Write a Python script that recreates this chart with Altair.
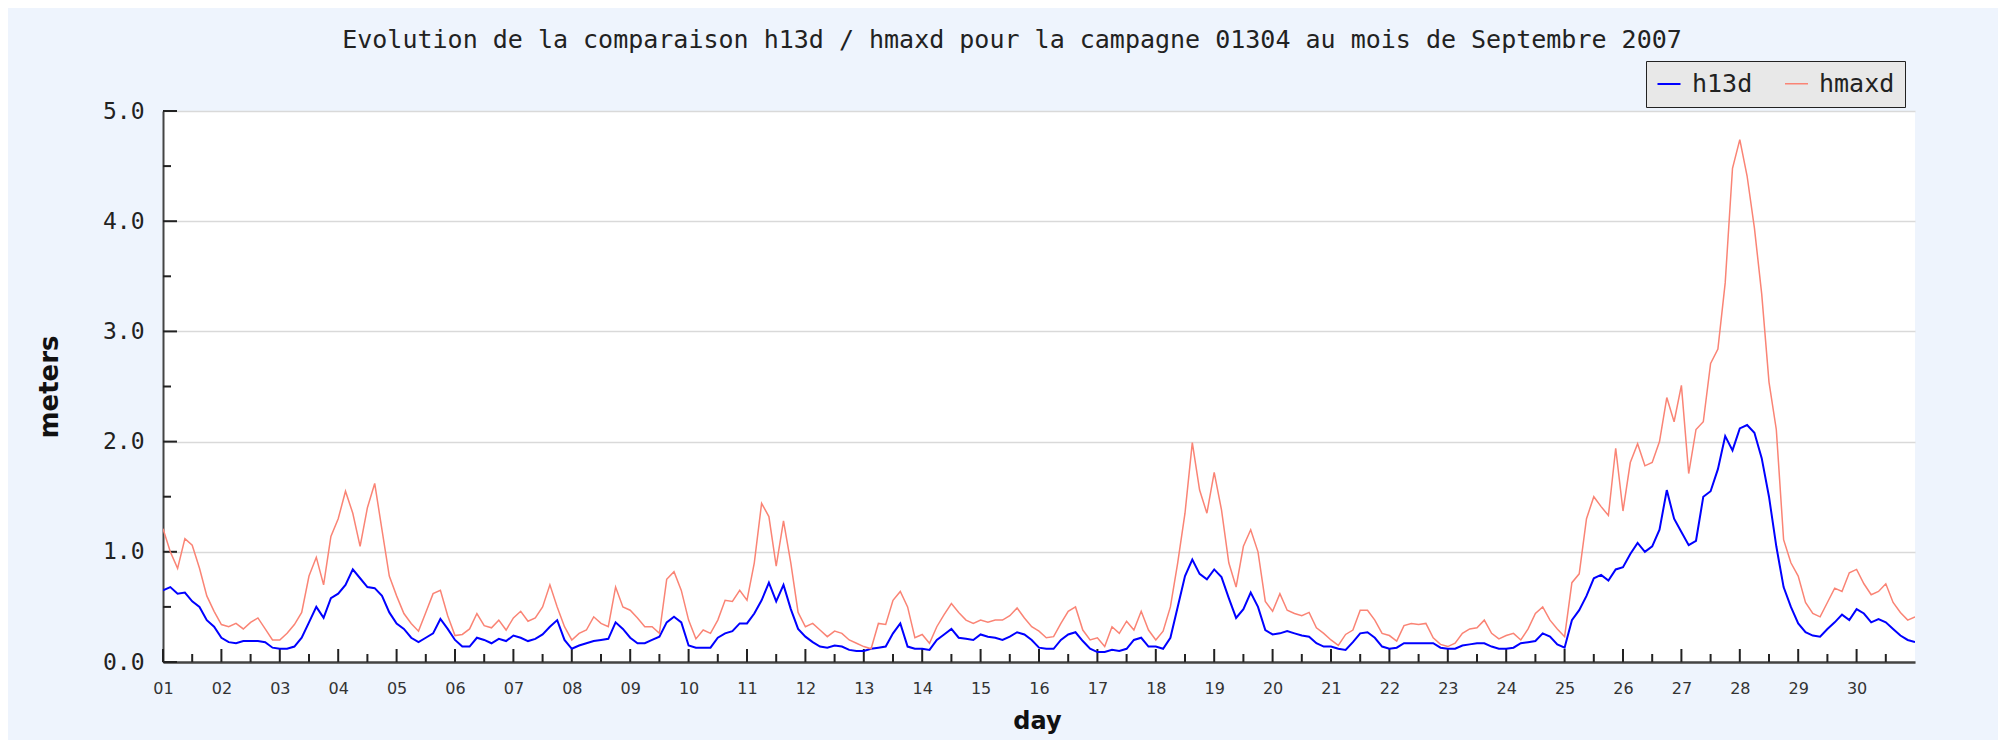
import altair as alt
import pandas as pd

# 3-hourly readings, day 01 00h .. day 30 21h, plus the final point (day 31 00h)
h13d = [
    0.65, 0.68, 0.62, 0.63, 0.55, 0.50, 0.38, 0.32,
    0.22, 0.18, 0.17, 0.19, 0.19, 0.19, 0.18, 0.13,
    0.12, 0.12, 0.14, 0.22, 0.36, 0.50, 0.40, 0.58,
    0.62, 0.70, 0.84, 0.76, 0.68, 0.67, 0.60, 0.45,
    0.35, 0.30, 0.22, 0.18, 0.22, 0.26, 0.39, 0.30,
    0.20, 0.14, 0.14, 0.22, 0.20, 0.17, 0.21, 0.19,
    0.24, 0.22, 0.19, 0.21, 0.25, 0.32, 0.38, 0.20,
    0.12, 0.15, 0.17, 0.19, 0.20, 0.21, 0.36, 0.30,
    0.22, 0.17, 0.17, 0.20, 0.23, 0.36, 0.41, 0.36,
    0.15, 0.13, 0.13, 0.13, 0.22, 0.26, 0.28, 0.35,
    0.35, 0.44, 0.56, 0.72, 0.55, 0.70, 0.48, 0.30,
    0.23, 0.18, 0.14, 0.13, 0.15, 0.14, 0.11, 0.10,
    0.10, 0.12, 0.13, 0.14, 0.26, 0.35, 0.14, 0.12,
    0.12, 0.11, 0.20, 0.25, 0.30, 0.22, 0.21, 0.20,
    0.25, 0.23, 0.22, 0.20, 0.23, 0.27, 0.25, 0.20,
    0.13, 0.12, 0.12, 0.20, 0.25, 0.27, 0.19, 0.12,
    0.09, 0.09, 0.11, 0.10, 0.12, 0.20, 0.22, 0.14,
    0.14, 0.12, 0.22, 0.50, 0.78, 0.93, 0.80, 0.75,
    0.84, 0.77, 0.58, 0.40, 0.48, 0.63, 0.50, 0.29,
    0.25, 0.26, 0.28, 0.26, 0.24, 0.23, 0.17, 0.14,
    0.14, 0.12, 0.11, 0.18, 0.26, 0.27, 0.22, 0.14,
    0.12, 0.13, 0.17, 0.17, 0.17, 0.17, 0.17, 0.13,
    0.12, 0.12, 0.15, 0.16, 0.17, 0.17, 0.14, 0.12,
    0.12, 0.13, 0.17, 0.18, 0.19, 0.26, 0.23, 0.16,
    0.13, 0.38, 0.47, 0.60, 0.76, 0.79, 0.74, 0.84,
    0.86, 0.98, 1.08, 1.00, 1.05, 1.20, 1.56, 1.30,
    1.18, 1.06, 1.10, 1.50, 1.55, 1.75, 2.05, 1.92,
    2.12, 2.15, 2.08, 1.85, 1.50, 1.05, 0.68, 0.50,
    0.35, 0.27, 0.24, 0.23, 0.30, 0.36, 0.43, 0.38,
    0.48, 0.44, 0.36, 0.39, 0.36, 0.30, 0.24, 0.20,
    0.18,
]

hmaxd = [
    1.21, 1.00, 0.85, 1.12, 1.06, 0.85, 0.60, 0.46,
    0.34, 0.32, 0.35, 0.30, 0.36, 0.40, 0.30, 0.20,
    0.20, 0.26, 0.34, 0.45, 0.78, 0.95, 0.70, 1.14,
    1.30, 1.55, 1.35, 1.05, 1.40, 1.62, 1.20, 0.78,
    0.60, 0.44, 0.35, 0.28, 0.45, 0.62, 0.65, 0.42,
    0.24, 0.25, 0.30, 0.44, 0.33, 0.31, 0.38, 0.29,
    0.40, 0.46, 0.37, 0.40, 0.50, 0.70, 0.50, 0.32,
    0.20, 0.26, 0.29, 0.41, 0.35, 0.32, 0.68, 0.50,
    0.47, 0.40, 0.32, 0.32, 0.26, 0.75, 0.82, 0.65,
    0.38, 0.21, 0.29, 0.26, 0.38, 0.56, 0.55, 0.65,
    0.56, 0.90, 1.44, 1.32, 0.87, 1.28, 0.90, 0.45,
    0.32, 0.35, 0.29, 0.23, 0.28, 0.26, 0.20, 0.17,
    0.14, 0.12, 0.35, 0.34, 0.56, 0.64, 0.50, 0.22,
    0.25, 0.17, 0.32, 0.43, 0.53, 0.45, 0.38, 0.35,
    0.38, 0.36, 0.38, 0.38, 0.42, 0.49, 0.40, 0.32,
    0.28, 0.22, 0.23, 0.35, 0.46, 0.50, 0.29, 0.20,
    0.22, 0.14, 0.32, 0.26, 0.37, 0.29, 0.46, 0.29,
    0.20, 0.28, 0.50, 0.90, 1.35, 1.99, 1.56, 1.35,
    1.72, 1.38, 0.90, 0.68, 1.05, 1.20, 1.00, 0.55,
    0.46, 0.62, 0.47, 0.44, 0.42, 0.45, 0.31, 0.26,
    0.20, 0.15, 0.25, 0.29, 0.47, 0.47, 0.38, 0.26,
    0.24, 0.19, 0.33, 0.35, 0.34, 0.35, 0.22, 0.16,
    0.14, 0.17, 0.26, 0.30, 0.31, 0.38, 0.26, 0.21,
    0.24, 0.26, 0.20, 0.30, 0.44, 0.50, 0.38, 0.30,
    0.23, 0.72, 0.80, 1.30, 1.50, 1.41, 1.33, 1.94,
    1.37, 1.81, 1.98, 1.78, 1.81, 2.00, 2.40, 2.18,
    2.51, 1.71, 2.11, 2.18, 2.71, 2.84, 3.44, 4.48,
    4.74, 4.41, 3.94, 3.34, 2.54, 2.11, 1.11, 0.90,
    0.78, 0.54, 0.44, 0.41, 0.54, 0.67, 0.64, 0.81,
    0.84, 0.71, 0.61, 0.64, 0.71, 0.54, 0.45, 0.38,
    0.41,
]

series_names = ["h13d", "hmaxd"]
series_colors = ["#0000FF", "#FA8475"]
day_ticks = list(range(0, 30))          # tick positions (days elapsed) labelled 01..30
half_day_ticks = [d + 0.5 for d in range(0, 30)]
y_major = [0, 1, 2, 3, 4, 5]
y_minor = [0.5, 1.5, 2.5, 3.5, 4.5]

title_text = "Evolution de la comparaison h13d / hmaxd pour la campagne 01304 au mois de Septembre 2007"

times = [i * 3 / 24 for i in range(len(h13d))]
rows = []
for name, vals in zip(series_names, [h13d, hmaxd]):
    for t, v in zip(times, vals):
        rows.append({"t": t, "value": v, "series": name})
df = pd.DataFrame(rows)

W, H = 1752, 551
MONO = "DejaVu Sans Mono"
SANS = "DejaVu Sans"

xscale = alt.Scale(domain=[0, 30], nice=False, zero=False)
yscale = alt.Scale(domain=[0, 5], nice=False)

x_axis = alt.Axis(
    values=day_ticks,
    labelExpr="(datum.value + 1) < 10 ? '0' + (datum.value + 1) : '' + (datum.value + 1)",
    ticks=False, grid=False,
    domainColor="#444444", domainWidth=2.5,
    labelFont=SANS, labelFontSize=16, labelColor="#333333", labelPadding=18,
    labelFlush=False,
    title="day", titleFont=SANS, titleFontSize=24, titleFontWeight="bold",
    titleColor="#111111", titleX=874, titleY=59, titleBaseline="middle",
)
y_axis = alt.Axis(
    values=y_major, format=".1f",
    ticks=False, grid=True, gridColor="#D9D9D9", gridWidth=1.5,
    domainColor="#444444", domainWidth=2,
    labelFont=MONO, labelFontSize=23, labelColor="#222222", labelPadding=19,
    title="meters", titleFont=SANS, titleFontSize=26, titleFontWeight="bold",
    titleColor="#111111", titleX=-114, titleY=275.5, titleAngle=270,
    titleAlign="center", titleBaseline="middle",
)

lines = alt.Chart(df).mark_line(interpolate="linear", clip=True).encode(
    x=alt.X("t:Q", scale=xscale, axis=x_axis),
    y=alt.Y("value:Q", scale=yscale, axis=y_axis),
    color=alt.Color(
        "series:N",
        scale=alt.Scale(domain=series_names, range=series_colors),
        legend=alt.Legend(
            title=None, orient="none", legendX=1483, legendY=-50,
            direction="horizontal", symbolType="stroke", symbolStrokeWidth=4,
            symbolSize=530, labelFont=MONO, labelFontSize=25, labelColor="#222222",
            fillColor="#E8E8E8", strokeColor="#222222", padding=10,
            columnPadding=28, labelOffset=10,
        ),
    ),
    strokeWidth=alt.StrokeWidth(
        "series:N", scale=alt.Scale(domain=series_names, range=[2, 1.5]), legend=None
    ),
)

xmaj = alt.Chart(pd.DataFrame({"t": day_ticks})).mark_rule(color="#222222", strokeWidth=2).encode(
    x=alt.X("t:Q", scale=xscale), y=alt.value(H), y2=alt.value(H - 13)
)
xmin = alt.Chart(pd.DataFrame({"t": half_day_ticks})).mark_rule(color="#222222", strokeWidth=2).encode(
    x=alt.X("t:Q", scale=xscale), y=alt.value(H), y2=alt.value(H - 8)
)
ymaj = alt.Chart(pd.DataFrame({"v": y_major})).mark_rule(color="#222222", strokeWidth=2).encode(
    y=alt.Y("v:Q", scale=yscale), x=alt.value(0), x2=alt.value(14)
)
ymin = alt.Chart(pd.DataFrame({"v": y_minor})).mark_rule(color="#222222", strokeWidth=2).encode(
    y=alt.Y("v:Q", scale=yscale), x=alt.value(0), x2=alt.value(8)
)

chart = alt.layer(xmaj, xmin, ymaj, ymin, lines).properties(
    width=W, height=H,
    autosize=alt.AutoSizeParams(type="none"),
    padding={"left": 155, "top": 103, "right": 83, "bottom": 78},
    background="#EEF4FD",
    title=alt.TitleParams(
        text=title_text, font=MONO, fontSize=25, fontWeight="normal",
        color="#222222", anchor="middle", dx=-27, dy=27, offset=15, baseline="alphabetic",
    ),
).configure_view(fill="white", stroke=None)

chart.save("out.html", embed_options={"renderer": "svg", "actions": False})
